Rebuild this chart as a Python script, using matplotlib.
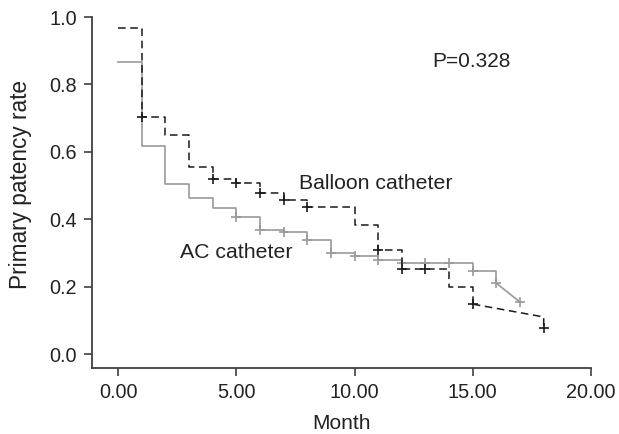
import matplotlib
matplotlib.use("Agg")
import matplotlib.pyplot as plt

plt.rcParams['font.family'] = ['Liberation Sans', 'DejaVu Sans']

# Balloon catheter (dashed)
times_b = [0, 1, 2, 3, 4, 5, 6, 7, 8, 10, 11, 12, 14, 15]
surv_b = [0.966, 0.702, 0.649, 0.554, 0.519, 0.507, 0.477, 0.456, 0.436, 0.382, 0.308, 0.252, 0.199, 0.148]
tail_b_t = [15, 18, 18]
tail_b_s = [0.148, 0.110, 0.077]
cens_b_t = [1, 4, 5, 6, 7, 8, 11, 12, 13, 15, 18]
cens_b_s = [0.702, 0.519, 0.507, 0.477, 0.456, 0.436, 0.308, 0.252, 0.252, 0.148, 0.077]

# AC catheter (gray solid)
times_a = [0, 1, 2, 3, 4, 5, 6, 7, 8, 9, 10, 11, 12, 15, 16]
surv_a = [0.865, 0.617, 0.505, 0.462, 0.433, 0.406, 0.367, 0.361, 0.338, 0.300, 0.290, 0.280, 0.270, 0.246, 0.210]
tail_a_t = [16, 17]
tail_a_s = [0.210, 0.154]
cens_a_t = [5, 6, 7, 8, 9, 10, 11, 12, 13, 14, 15, 16, 17]
cens_a_s = [0.406, 0.367, 0.361, 0.338, 0.300, 0.290, 0.280, 0.270, 0.270, 0.270, 0.246, 0.210, 0.154]

xticks = [0, 5, 10, 15, 20]
xtick_labels = ["0.00", "5.00", "10.00", "15.00", "20.00"]
yticks = [0.0, 0.2, 0.4, 0.6, 0.8, 1.0]
ytick_labels = ["0.0", "0.2", "0.4", "0.6", "0.8", "1.0"]

fig = plt.figure(figsize=(6.19, 4.34), dpi=100)
ax = fig.add_axes([92/619, (434-368)/434, (591-92)/619, (368-17)/434])

gray = '#999999'
black = '#1a1a1a'
dash = (0, (5, 3))

ax.step(times_a, surv_a, where='post', color=gray, lw=1.2)
ax.plot(tail_a_t, tail_a_s, color=gray, lw=1.2)
ax.plot(cens_a_t, cens_a_s, ls='none', marker='+', ms=7, mew=1.2, color=gray)

ax.step(times_b, surv_b, where='post', color=black, lw=1.1, ls=dash)
ax.plot(tail_b_t, tail_b_s, color=black, lw=1.1, ls=dash)
ax.plot(cens_b_t, cens_b_s, ls='none', marker='+', ms=7, mew=1.2, color=black)

ax.text(13.3, 0.868, "P=0.328", fontsize=15, va='center', ha='left', color='#222222')
ax.text(7.67, 0.507, "Balloon catheter", fontsize=15.3, va='center', ha='left', color='#222222')
ax.text(2.63, 0.302, "AC catheter", fontsize=15.3, va='center', ha='left', color='#222222')

ax.set_xlim(-1.1, 20)
ax.set_ylim(-0.0415, 1.0)
ax.set_xticks(xticks)
ax.set_xticklabels(xtick_labels)
ax.set_yticks(yticks)
ax.set_yticklabels(ytick_labels)

for s in ['top', 'right']:
    ax.spines[s].set_visible(False)
for s in ['left', 'bottom']:
    ax.spines[s].set_color('#404040')
    ax.spines[s].set_linewidth(1.3)

ax.tick_params(axis='both', direction='out', length=6, width=1.2, color='#404040',
               labelsize=14.3, labelcolor='#222222', pad=5)

ax.set_xlabel("Month", fontsize=15, color='#222222', va='center')
ax.xaxis.set_label_coords(0.501, -0.157)
ax.set_ylabel("Primary patency rate", fontsize=16.3, color='#222222', va='center')
ax.yaxis.set_label_coords(-0.144, 0.524)

fig.savefig("out.png", dpi=100)
